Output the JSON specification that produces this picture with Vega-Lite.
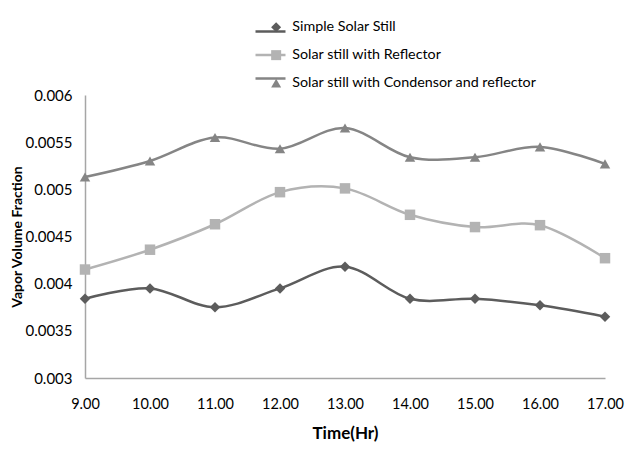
{
  "$schema": "https://vega.github.io/schema/vega-lite/v6.json",
  "width": 520,
  "height": 283,
  "autosize": {"type": "none"},
  "padding": {"left": 85, "top": 95, "right": 33, "bottom": 81},
  "background": "white",
  "config": {
    "view": {"stroke": null},
    "font": "Lato",
    "axis": {"labelFont": "Lato", "titleFont": "Lato", "labelColor": "#000000", "titleColor": "#000000", "domainColor": "#a6a6a6", "domainWidth": 1.5, "grid": false, "ticks": false}
  },
  "data": {
    "values": [
      {"time": 9, "series": "Simple Solar Still", "value": 0.00384},
      {"time": 10, "series": "Simple Solar Still", "value": 0.00395},
      {"time": 11, "series": "Simple Solar Still", "value": 0.00375},
      {"time": 12, "series": "Simple Solar Still", "value": 0.00395},
      {"time": 13, "series": "Simple Solar Still", "value": 0.00418},
      {"time": 14, "series": "Simple Solar Still", "value": 0.00384},
      {"time": 15, "series": "Simple Solar Still", "value": 0.00384},
      {"time": 16, "series": "Simple Solar Still", "value": 0.00377},
      {"time": 17, "series": "Simple Solar Still", "value": 0.00365},
      {"time": 9, "series": "Solar still with Reflector", "value": 0.00415},
      {"time": 10, "series": "Solar still with Reflector", "value": 0.00436},
      {"time": 11, "series": "Solar still with Reflector", "value": 0.00463},
      {"time": 12, "series": "Solar still with Reflector", "value": 0.00497},
      {"time": 13, "series": "Solar still with Reflector", "value": 0.00501},
      {"time": 14, "series": "Solar still with Reflector", "value": 0.00473},
      {"time": 15, "series": "Solar still with Reflector", "value": 0.0046},
      {"time": 16, "series": "Solar still with Reflector", "value": 0.00462},
      {"time": 17, "series": "Solar still with Reflector", "value": 0.00427},
      {"time": 9, "series": "Solar still with Condensor and reflector", "value": 0.00513},
      {"time": 10, "series": "Solar still with Condensor and reflector", "value": 0.0053},
      {"time": 11, "series": "Solar still with Condensor and reflector", "value": 0.00555},
      {"time": 12, "series": "Solar still with Condensor and reflector", "value": 0.00543},
      {"time": 13, "series": "Solar still with Condensor and reflector", "value": 0.00565},
      {"time": 14, "series": "Solar still with Condensor and reflector", "value": 0.00534},
      {"time": 15, "series": "Solar still with Condensor and reflector", "value": 0.00534},
      {"time": 16, "series": "Solar still with Condensor and reflector", "value": 0.00545},
      {"time": 17, "series": "Solar still with Condensor and reflector", "value": 0.00527}
    ]
  },
  "layer": [
    {
      "mark": {"type": "line", "interpolate": "cardinal", "strokeWidth": 2.5},
      "encoding": {
        "x": {"field": "time", "type": "quantitative", "scale": {"domain": [9, 17], "nice": false, "zero": false},
          "axis": {"values": [9, 10, 11, 12, 13, 14, 15, 16, 17], "format": ".2f", "labelFontSize": 14.5, "labelFlush": false, "labelPadding": 19, "title": "Time(Hr)", "titleFontSize": 17, "titleFontWeight": "bold", "titlePadding": 15}},
        "y": {"field": "value", "type": "quantitative", "scale": {"domain": [0.003, 0.006], "nice": false, "zero": false},
          "axis": {"values": [0.003, 0.0035, 0.004, 0.0045, 0.005, 0.0055, 0.006], "format": "~g", "labelFontSize": 15, "labelFlush": false, "labelPadding": 13, "title": "Vapor Volume Fraction", "titleFontSize": 14, "titleFontWeight": "bold", "titlePadding": 0}},
        "stroke": {"field": "series", "type": "nominal",
          "sort": ["Simple Solar Still", "Solar still with Reflector", "Solar still with Condensor and reflector"],
          "scale": {"range": ["#5c5c5c", "#b3b3b3", "#858585"]},
          "legend": {"orient": "none", "legendX": 174, "legendY": -75, "title": null, "symbolType": "M-1.5,0H1.5", "symbolSize": 400, "symbolStrokeWidth": 2.5, "labelExpr": "''", "labelFontSize": 14, "rowPadding": 4.5}}
      }
    },
    {
      "mark": {"type": "point", "filled": true, "opacity": 1, "size": 110},
      "encoding": {
        "x": {"field": "time", "type": "quantitative"},
        "y": {"field": "value", "type": "quantitative"},
        "fill": {"field": "series", "type": "nominal",
          "scale": {"domain": ["Simple Solar Still", "Solar still with Reflector", "Solar still with Condensor and reflector"], "range": ["#5c5c5c", "#b3b3b3", "#858585"]},
          "legend": {"orient": "none", "legendX": 184, "legendY": -75, "title": null, "symbolSize": 100, "labelFontSize": 14.3, "labelLimit": 400, "labelOffset": 9, "labelColor": "#000000", "rowPadding": 11}},
        "shape": {"field": "series", "type": "nominal",
          "scale": {"domain": ["Simple Solar Still", "Solar still with Reflector", "Solar still with Condensor and reflector"], "range": ["diamond", "square", "triangle-up"]},
          "legend": {"orient": "none", "legendX": 184, "legendY": -75, "title": null, "symbolSize": 100, "labelFontSize": 14.3, "labelLimit": 400, "labelOffset": 9, "labelColor": "#000000", "rowPadding": 11}}
      }
    }
  ]
}
